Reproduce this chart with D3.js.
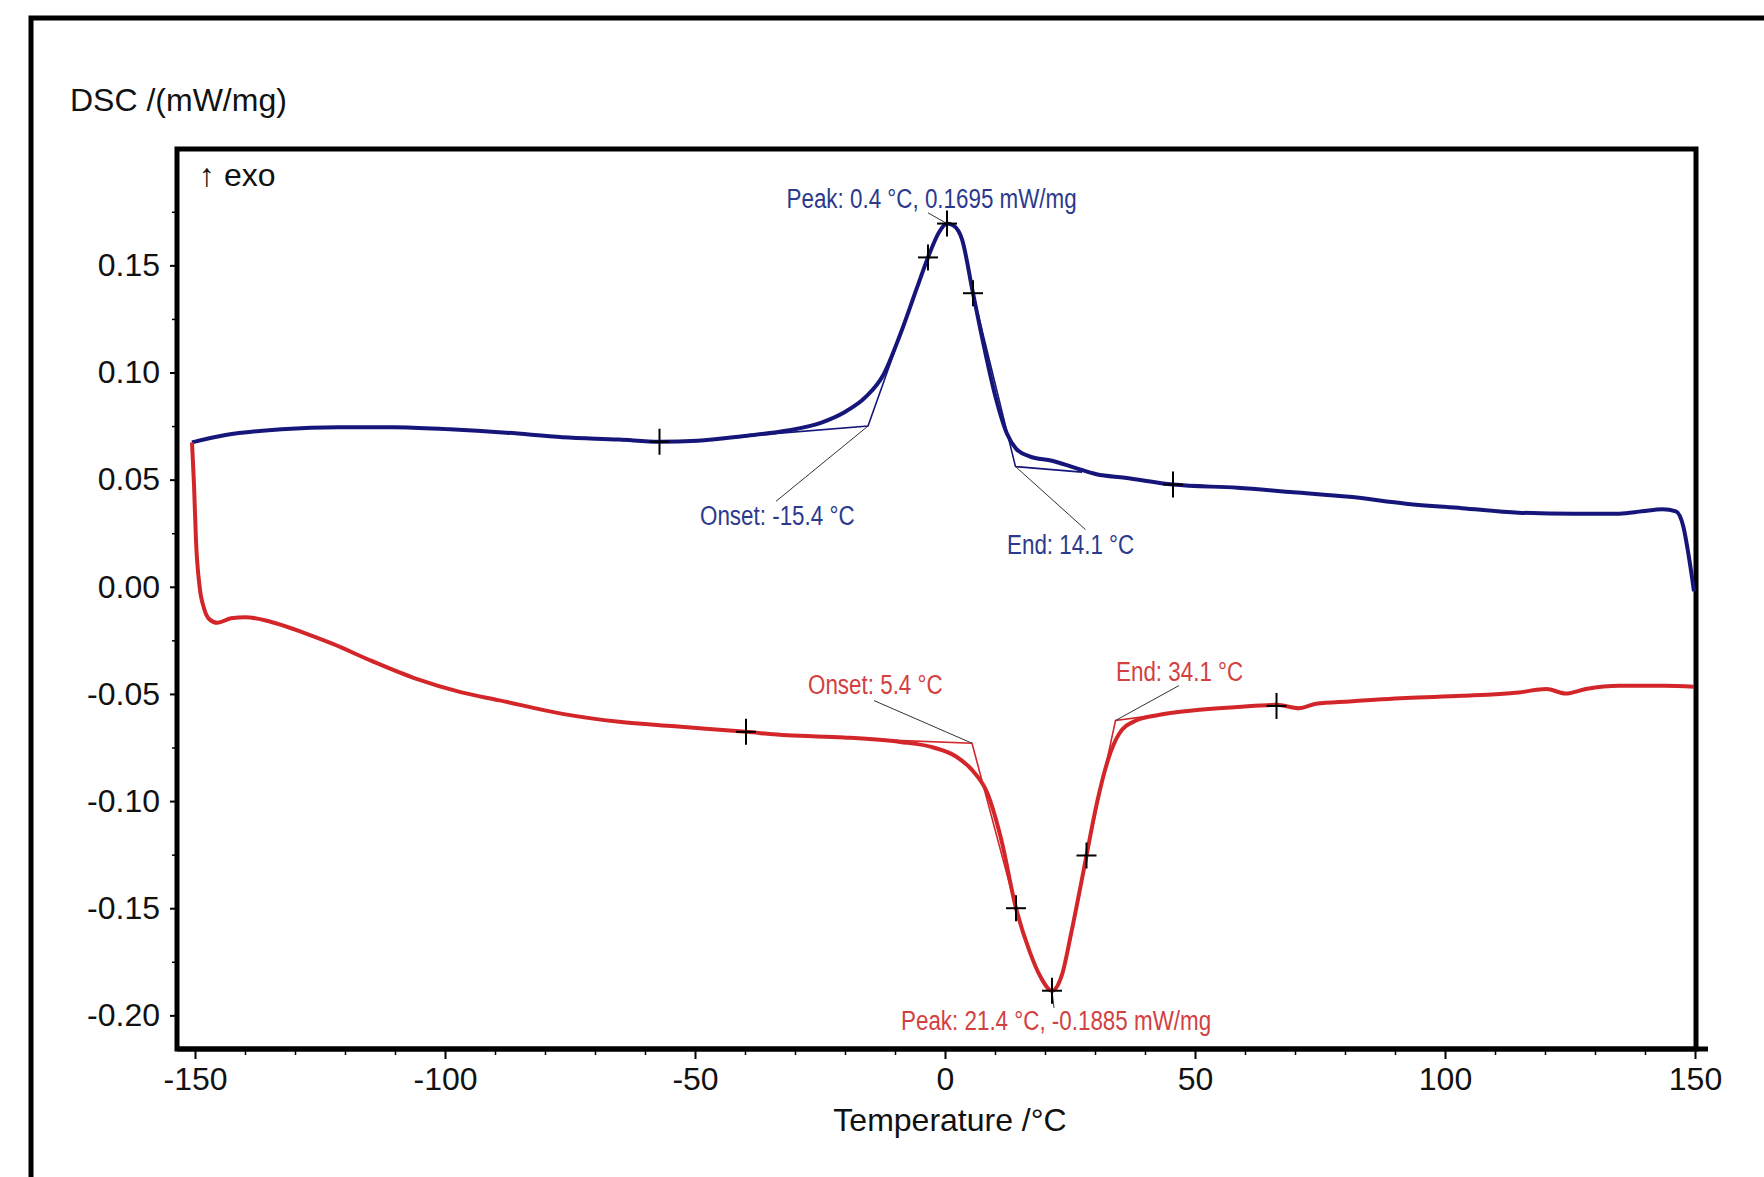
<!DOCTYPE html>
<html>
<head>
<meta charset="utf-8">
<script src="https://cdn.jsdelivr.net/npm/d3@7"></script>
<style>
    body { margin: 0; background: #fff; }
    svg { display: block; }
    text { font-family: "Liberation Sans", Arial, sans-serif; }
</style>
</head>
<body>
<svg id="chart"></svg>
<script>
// heating run (blue), temperature in °C and DSC in mW/mg
const heatT = [-150.6, -143.9, -132.7, -121.4, -110.2, -99.0, -87.7, -76.5, -65.2, -57.1, -49.5, -40.5, -31.5,
    -24.7, -20.2, -15.8, -12.4, -9.0, -5.6, -3.4, -1.1, 0.4, 1.8, 3.4, 5.6, 7.9, 10.1, 12.4, 14.2, 16.9, 21.4,
    25.9, 30.3, 36.0, 45.6, 58.5, 69.7, 80.9, 92.2, 103.4, 114.7, 125.9, 134.9, 139.4, 143.5, 146.2, 147.7,
    148.8, 149.8];
const heatDSC = [0.0674, 0.0708, 0.0735, 0.0745, 0.0745, 0.0735, 0.0719, 0.0698, 0.0687, 0.0677, 0.0682, 0.0703,
    0.0729, 0.0766, 0.0813, 0.0887, 0.0986, 0.1175, 0.1396, 0.1537, 0.1658, 0.1695, 0.1684, 0.1621, 0.137,
    0.111, 0.0887, 0.0714, 0.0645, 0.0609, 0.0588, 0.0556, 0.0525, 0.0509, 0.0477, 0.0462, 0.0441, 0.042,
    0.0388, 0.0367, 0.0346, 0.0341, 0.0341, 0.0352, 0.0362, 0.0352, 0.0278, 0.0136, -0.0021];

// cooling run (red)
const coolT = [-150.6, -150.2, -149.8, -149.1, -148.2, -147.1, -145.5, -142.8, -139.9, -134.9, -128.2, -122.3,
    -114.7, -105.7, -96.7, -89.1, -76.5, -65.2, -54.0, -39.8, -31.5, -20.2, -9.0, -2.3, 2.2, 5.6, 8.5, 11.2,
    14.2, 16.9, 19.1, 21.4, 23.4, 25.2, 27.0, 28.3, 30.3, 32.6, 34.8, 38.2, 42.7, 49.5, 58.5, 66.3, 70.8,
    74.2, 80.9, 92.2, 103.4, 114.7, 120.3, 124.1, 128.2, 134.9, 143.9, 149.8];
const coolDSC = [0.0674, 0.0477, 0.0215, 0.0005, -0.0100, -0.0152, -0.0168, -0.0147, -0.0142, -0.0163, -0.0215,
    -0.0268, -0.0346, -0.0430, -0.0493, -0.0530, -0.0593, -0.0630, -0.0651, -0.0677, -0.0693, -0.0703, -0.0724,
    -0.0750, -0.0792, -0.0860, -0.0965, -0.1175, -0.1500, -0.1700, -0.1820, -0.1885, -0.1810, -0.1621, -0.1411,
    -0.1254, -0.1018, -0.0808, -0.0687, -0.0624, -0.0598, -0.0577, -0.0561, -0.0551, -0.0567, -0.0546, -0.0535,
    -0.0519, -0.0509, -0.0493, -0.0477, -0.0498, -0.0477, -0.0462, -0.0462, -0.0467];

// evaluation markers (+)
const heatMarks = [[-57.1, 0.0677], [-3.4, 0.1537], [0.4, 0.1695], [5.6, 0.137], [45.6, 0.0477]];
const coolMarks = [[-39.8, -0.0677], [14.2, -0.150], [21.4, -0.1885], [28.3, -0.1254], [66.3, -0.0556]];

// onset / end tangent constructions
const heatTangents = [
    [[-40.5, 0.0703], [-15.4, 0.075], [-3.4, 0.1537]],
    [[5.6, 0.137], [14.1, 0.0561], [27.4, 0.0535]]
];
const coolTangents = [
    [[-15, -0.0712], [5.4, -0.073], [14.2, -0.150]],
    [[28.3, -0.1254], [34.1, -0.0624], [42, -0.0600]]
];

// annotation texts: label anchor and leader line, in data units
const heatNotes = [
    {text: "Peak: 0.4 °C, 0.1695 mW/mg", at: [-31.7, 0.1768], leader: [[-3.4, 0.1745], [0.4, 0.1695]]},
    {text: "Onset: -15.4 °C", at: [-49.0, 0.029], leader: [[-33.8, 0.0399], [-15.4, 0.075]]},
    {text: "End: 14.1 °C", at: [12.4, 0.0154], leader: [[28.1, 0.0267], [14.1, 0.0561]]}
];
const coolNotes = [
    {text: "Onset: 5.4 °C", at: [-27.4, -0.0499], leader: [[-14.2, -0.0531], [5.4, -0.073]]},
    {text: "End: 34.1 °C", at: [34.2, -0.0438], leader: [[46.8, -0.0461], [34.1, -0.0624]]},
    {text: "Peak: 21.4 °C, -0.1885 mW/mg", at: [-8.8, -0.207], leader: [[21.4, -0.1885], [21.8, -0.1965]]}
];

const xTicks = [-150, -100, -50, 0, 50, 100, 150];
const xMinor = d3.range(-150, 151, 10);
const yTicks = [0.15, 0.10, 0.05, 0.00, -0.05, -0.10, -0.15, -0.20];
const yMinor = d3.range(-0.2, 0.2, 0.025);

const width = 1764;
const height = 1177;
const frame = {left: 177, top: 149, right: 1696, bottom: 1049};

const blue = "#16167a";
const red = "#d3262a";
const blueText = "#2b3a8c";
const redText = "#d2413f";

const svg = d3.select("#chart")
    .attr("width", width)
    .attr("height", height);

const x = d3.scaleLinear().domain([-153.6, 150.2]).range([frame.left, frame.right]);
const y = d3.scaleLinear().domain([-0.2157, 0.2043]).range([frame.bottom, frame.top]);

// plain hyphen for negatives, as in the original software
const hyphen = f => d => f(d).replace("\u2212", "-");

// outer border (runs off the right and bottom of the picture)
svg.append("path")
    .attr("d", `M31,${height + 10}V18H${width + 10}`)
    .attr("fill", "none")
    .attr("stroke", "#000")
    .attr("stroke-width", 5);

svg.append("text")
    .attr("x", 70)
    .attr("y", 111)
    .attr("font-size", 32)
    .attr("fill", "#111")
    .text("DSC /(mW/mg)");

// y axis
const yAxis = svg.append("g")
    .attr("transform", `translate(${frame.left},0)`)
    .call(d3.axisLeft(y).tickValues(yTicks).tickFormat(hyphen(d3.format(".2f"))).tickSize(7).tickPadding(10));
yAxis.select(".domain").remove();
yAxis.selectAll("text").attr("font-size", 32).attr("font-family", "Liberation Sans, Arial, sans-serif").attr("fill", "#111");
yAxis.selectAll("line").attr("stroke-width", 2);
svg.append("g")
    .attr("transform", `translate(${frame.left},0)`)
    .call(d3.axisLeft(y).tickValues(yMinor.filter(v => !yTicks.some(t => Math.abs(t - v) < 1e-6))).tickFormat("").tickSize(5))
    .call(g => g.select(".domain").remove())
    .selectAll("line").attr("stroke-width", 1.5);

// x axis
const xAxis = svg.append("g")
    .attr("transform", `translate(0,${frame.bottom})`)
    .call(d3.axisBottom(x).tickValues(xTicks).tickFormat(hyphen(d3.format("d"))).tickSize(10).tickPadding(8));
xAxis.select(".domain").remove();
xAxis.selectAll("text").attr("font-size", 32).attr("font-family", "Liberation Sans, Arial, sans-serif").attr("fill", "#111");
xAxis.selectAll("line").attr("stroke-width", 2);
svg.append("g")
    .attr("transform", `translate(0,${frame.bottom})`)
    .call(d3.axisBottom(x).tickValues(xMinor.filter(v => v % 50 !== 0)).tickFormat("").tickSize(6))
    .call(g => g.select(".domain").remove())
    .selectAll("line").attr("stroke-width", 1.5);

svg.append("line")
    .attr("x1", frame.left).attr("x2", frame.right + 12)
    .attr("y1", frame.bottom).attr("y2", frame.bottom)
    .attr("stroke", "#000").attr("stroke-width", 5);

svg.append("text")
    .attr("x", x(0) + 5)
    .attr("y", 1131)
    .attr("text-anchor", "middle")
    .attr("font-size", 32)
    .attr("fill", "#111")
    .text("Temperature /°C");

// plot frame
svg.append("rect")
    .attr("x", frame.left).attr("y", frame.top)
    .attr("width", frame.right - frame.left).attr("height", frame.bottom - frame.top)
    .attr("fill", "none").attr("stroke", "#000").attr("stroke-width", 5);

svg.append("text")
    .attr("x", 199)
    .attr("y", 186)
    .attr("font-size", 32)
    .attr("fill", "#111")
    .text("↑ exo");

const line = d3.line().x(d => x(d[0])).y(d => y(d[1]));
const smooth = d3.line().x(d => x(d[0])).y(d => y(d[1])).curve(d3.curveMonotoneX);

function drawRun(ts, vals, tangents, color)
{
    svg.append("path")
        .datum(ts.map((t, i) => [t, vals[i]]))
        .attr("d", smooth)
        .attr("fill", "none")
        .attr("stroke", color)
        .attr("stroke-width", 4)
        .attr("stroke-linejoin", "round");

    svg.selectAll(null)
        .data(tangents)
        .enter().append("path")
        .attr("d", line)
        .attr("fill", "none")
        .attr("stroke", color)
        .attr("stroke-width", 1.6);
}

drawRun(heatT, heatDSC, heatTangents, blue);
drawRun(coolT, coolDSC, coolTangents, red);

function drawNotes(notes, color)
{
    svg.selectAll(null)
        .data(notes)
        .enter().append("path")
        .attr("d", d => line(d.leader))
        .attr("fill", "none")
        .attr("stroke", "#333")
        .attr("stroke-width", 1);

    svg.selectAll(null)
        .data(notes)
        .enter().append("text")
        .attr("transform", d => `translate(${x(d.at[0])},${y(d.at[1])}) scale(0.8,1)`)
        .attr("font-size", 28)
        .attr("fill", color)
        .text(d => d.text);
}

drawNotes(heatNotes, blueText);
drawNotes(coolNotes, redText);

function drawMarks(marks)
{
    const g = svg.selectAll(null)
        .data(marks)
        .enter().append("g")
        .attr("transform", d => `translate(${x(d[0])},${y(d[1])})`);
    g.append("line").attr("x1", -10).attr("x2", 10).attr("stroke", "#000").attr("stroke-width", 2);
    g.append("line").attr("y1", -13).attr("y2", 13).attr("stroke", "#000").attr("stroke-width", 2);
}

drawMarks(heatMarks);
drawMarks(coolMarks);
</script>
</body>
</html>
